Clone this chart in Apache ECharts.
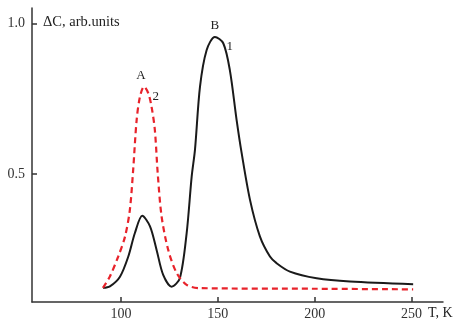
<!DOCTYPE html>
<html><head><meta charset="utf-8">
<script src="https://cdn.jsdelivr.net/npm/echarts@6/dist/echarts.min.js"></script>
<style>html,body{margin:0;padding:0;background:#fff}#c{width:453px;height:324px}</style>
</head><body><div id="c"></div>
<script>
// Curve 1 (black, solid): T [K], ΔC [arb. units]
const curve1T = [90.7, 94.3, 99.5, 103.8, 107.2, 111.0, 115.0, 118.4, 121.8, 126.2, 130.4, 133.9, 136.5, 138.2, 140.8, 144.2, 148.5, 152.8, 156.2, 159.7, 162.3, 166.6, 171.7, 176.9, 180.3, 187.2, 201, 218.2, 250.8];
const curve1C = [0.122, 0.127, 0.159, 0.226, 0.304, 0.361, 0.326, 0.248, 0.165, 0.126, 0.154, 0.303, 0.491, 0.58, 0.79, 0.911, 0.955, 0.934, 0.845, 0.679, 0.569, 0.414, 0.293, 0.226, 0.204, 0.176, 0.154, 0.143, 0.134];
// Curve 2 (red, dashed)
const curve2T = [90.7, 94.3, 98.6, 102.1, 104.6, 106.3, 108.1, 109.8, 111.9, 114.1, 115.8, 117.5, 119.0, 121.0, 124.4, 128.7, 133.9, 140.8, 200, 250.8];
const curve2C = [0.122, 0.160, 0.226, 0.292, 0.381, 0.513, 0.679, 0.756, 0.790, 0.768, 0.723, 0.646, 0.50, 0.358, 0.248, 0.172, 0.132, 0.121, 0.119, 0.117];
// Tick labels
const xTicks = [100, 150, 200, 250];
const yTicks = [0.5, 1.0];
// Peak annotations: text, T, ΔC
const annText = ['A', '2', 'B', '1'];
const annT = [110.3, 117.9, 148.5, 156.2];
const annC = [0.828, 0.756, 0.994, 0.922];

const font = '"Liberation Serif", "DejaVu Serif", serif';
const chart = echarts.init(document.getElementById('c'));
const pts = (xs, ys) => xs.map((x, i) => [x, ys[i]]);
chart.setOption({
  animation: false,
  grid: {left: 32, top: 8, width: 411, height: 294},
  xAxis: {
    type: 'value', min: 54.1, max: 266.2,
    axisLine: {lineStyle: {color: '#333', width: 1.5}},
    axisTick: {inside: true, length: 5, customValues: xTicks, lineStyle: {color: '#333', width: 1.5}},
    axisLabel: {customValues: xTicks, color: '#333', fontFamily: font, fontSize: 14, margin: 5},
    splitLine: {show: false}
  },
  yAxis: {
    type: 'value', min: 0.075, max: 1.051,
    axisLine: {show: true, lineStyle: {color: '#333', width: 1.5}},
    axisTick: {show: true, inside: true, length: 5, customValues: yTicks, lineStyle: {color: '#333', width: 1.5}},
    axisLabel: {customValues: yTicks, color: '#333', fontFamily: font, fontSize: 14, margin: 7,
      formatter: v => v.toFixed(1)},
    splitLine: {show: false}
  },
  series: [
    {type: 'line', data: pts(curve1T, curve1C), smooth: 0.3, showSymbol: false,
      lineStyle: {color: '#1a1a1a', width: 2}},
    {type: 'line', data: pts(curve2T, curve2C), smooth: 0.3, showSymbol: false,
      lineStyle: {color: '#e8232b', width: 2.2, type: [6, 4]}}
  ]
});
const g = [];
annText.forEach((t, i) => {
  const p = chart.convertToPixel({gridIndex: 0}, [annT[i], annC[i]]);
  g.push({type: 'text', x: p[0], y: p[1], style: {text: t, fill: '#222', font: '13px ' + font, align: 'center', verticalAlign: 'middle'}});
});
g.push({type: 'text', x: 43, y: 22, style: {text: 'ΔC, arb.units', fill: '#222', font: '14.5px ' + font, align: 'left', verticalAlign: 'middle'}});
g.push({type: 'text', x: 428, y: 313, style: {text: 'T, K', fill: '#222', font: '14px ' + font, align: 'left', verticalAlign: 'middle'}});
chart.setOption({graphic: g});
</script></body></html>
